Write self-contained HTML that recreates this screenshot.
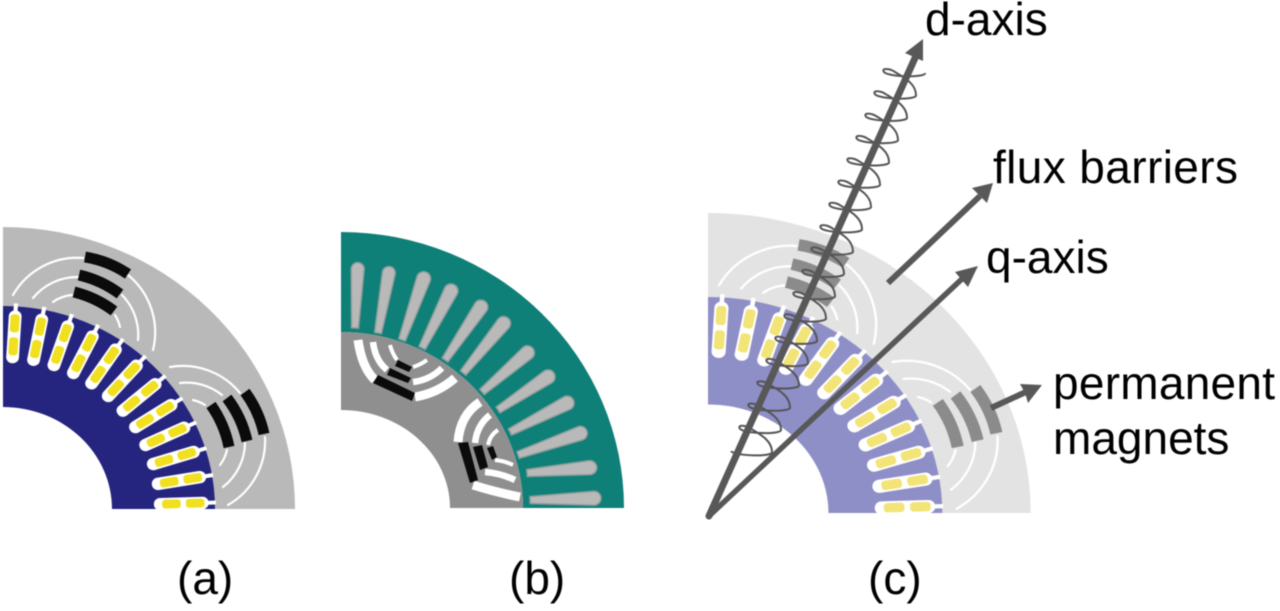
<!DOCTYPE html>
<html><head><meta charset="utf-8"><style>
html,body{margin:0;padding:0;background:#fff;width:1280px;height:611px;overflow:hidden}
svg{display:block;filter:blur(.6px)}
:root{--g:#b9b9b9;--b:#25257f;--y:#f0e020;--m:#0b0b0b}
text{font-family:"Liberation Sans",sans-serif;font-size:46px;fill:#000}
</style></head><body>
<svg width="1280" height="611" viewBox="0 0 1280 611" xmlns="http://www.w3.org/2000/svg">
<defs>
<clipPath id="cq"><rect x="3" y="200" width="300" height="309"/></clipPath>
<g id="sl">
<rect x="-2" y="-206" width="4" height="14" fill="#fff"/>
<rect x="-6.2" y="-199" width="12.4" height="53" rx="6" fill="#fff"/>
<rect x="-4.4" y="-195" width="8.8" height="18" rx="3" style="fill:var(--y)"/>
<rect x="-4.4" y="-172" width="8.8" height="18" rx="3" style="fill:var(--y)"/>
</g>
<g id="motor">
<path d="M3 509V227A292 282 0 0 1 295 509H112A109 102 0 0 0 3 407Z" style="fill:var(--g)"/>
<path d="M3 407V306A212 203 0 0 1 215 509H112A109 102 0 0 0 3 407Z" style="fill:var(--b)"/>
<g clip-path="url(#cq)"><g transform="translate(3 509) scale(1.034 1)">
<use href="#sl" transform="rotate(3.5)"/><use href="#sl" transform="rotate(11.2)"/><use href="#sl" transform="rotate(18.9)"/><use href="#sl" transform="rotate(26.6)"/><use href="#sl" transform="rotate(34.3)"/><use href="#sl" transform="rotate(42)"/><use href="#sl" transform="rotate(49.7)"/><use href="#sl" transform="rotate(57.4)"/><use href="#sl" transform="rotate(65.1)"/><use href="#sl" transform="rotate(72.8)"/><use href="#sl" transform="rotate(80.5)"/><use href="#sl" transform="rotate(88.2)"/>
</g></g>
<g fill="none" stroke="#fff" stroke-width="2.2" stroke-linecap="round">
<path d="M13 295A74 74 0 0 1 83 258M128 275A74 74 0 0 1 153 350"/>
<path d="M33 298A57 57 0 0 1 78 277M122 295A57 57 0 0 1 138 340"/>
<path d="M53 302A38 38 0 0 1 72 295M115 315A38 38 0 0 1 120 327"/>
<path d="M170 367A74 74 0 0 1 240 393M265 437A74 74 0 0 1 228 505"/>
<path d="M180 383A57 57 0 0 1 222 395M245 443A57 57 0 0 1 223 487"/>
<path d="M193 400A40 40 0 0 1 205 405M227 450A40 40 0 0 1 220 465"/>
</g>
<g fill="none" stroke-width="11" stroke-linecap="butt" style="stroke:var(--m)">
<path d="M85 257A110 110 0 0 1 128 274"/>
<path d="M79 275A110 110 0 0 1 120 294"/>
<path d="M74 292A110 110 0 0 1 114 311"/>
<path d="M245 392A110 110 0 0 1 264 434"/>
<path d="M227 398A110 110 0 0 1 247 441"/>
<path d="M211 405A110 110 0 0 1 229 447"/>
</g>
</g>
</defs>

<!-- panel a -->
<use href="#motor"/>

<!-- panel b -->
<path d="M341 332V232A283 276 0 0 1 624 508H523A182 176 0 0 0 341 332Z" fill="#0e8078"/>
<g fill="#b9b9b9" stroke="#8d9c9a" stroke-width="1.5">
<path transform="translate(355 328) rotate(-87.4)" d="M0-3.5L59-6.5A6.5 6.5 0 0 1 59 6.5L0 3.5Z"/>
<path transform="translate(378 333) rotate(-79.8)" d="M0-3.5L61-6.5A6.5 6.5 0 0 1 61 6.5L0 3.5Z"/>
<path transform="translate(402 340) rotate(-70.6)" d="M0-3.5L65-7A7 7 0 0 1 65 7L0 3.5Z"/>
<path transform="translate(422 348) rotate(-63.1)" d="M0-3.5L64-7A7 7 0 0 1 64 7L0 3.5Z"/>
<path transform="translate(445 360) rotate(-55.9)" d="M0-3.5L64-7A7 7 0 0 1 64 7L0 3.5Z"/>
<path transform="translate(463 373) rotate(-50.7)" d="M0-3.5L64-7A7 7 0 0 1 64 7L0 3.5Z"/>
<path transform="translate(482 392) rotate(-40.8)" d="M0-3.5L60-7A7 7 0 0 1 60 7L0 3.5Z"/>
<path transform="translate(498 410) rotate(-33.5)" d="M0-3.5L60-7A7 7 0 0 1 60 7L0 3.5Z"/>
<path transform="translate(510 432) rotate(-26.9)" d="M0-3.5L64-7A7 7 0 0 1 64 7L0 3.5Z"/>
<path transform="translate(518 455) rotate(-19.2)" d="M0-3.5L66-7A7 7 0 0 1 66 7L0 3.5Z"/>
<path transform="translate(527 473) rotate(-4.9)" d="M0-3.5L63-7A7 7 0 0 1 63 7L0 3.5Z"/>
<path transform="translate(530 500) rotate(-1.6)" d="M0-3.5L64-7A7 7 0 0 1 64 7L0 3.5Z"/>
</g>
<path d="M341 410V332A182 176 0 0 1 523 508H450A109 98 0 0 0 341 410Z" fill="#8f8f8f"/>
<g fill="none" stroke="#fff" stroke-linecap="butt">
<g stroke-width="9">
<path d="M358 340Q362 368 375 380"/><path d="M415 397Q438 393 455 378"/>
<path d="M480 402Q460 415 458 442"/><path d="M473 485Q495 492 520 497"/>
</g>
<g stroke-width="6.5">
<path d="M373 342Q375 360 387 370"/><path d="M413 382Q430 380 442 368"/>
<path d="M490 415Q477 425 475 443"/><path d="M485 472Q500 473 515 480"/>
</g>
<g stroke-width="4">
<path d="M390 345Q392 353 397 360"/><path d="M413 367Q420 365 427 360"/>
<path d="M498 430Q490 435 488 445"/><path d="M495 460Q505 461 513 465"/>
</g>
</g>
<g fill="#0b0b0b">
<path d="M378 375L415 393L412 401L373 383Z"/><path d="M390 368L411 378L408 383L387 375Z"/><path d="M398 360L412 367L409 372L395 366Z"/>
<path d="M458 443L468 442L478 480L470 483Z"/><path d="M473 447L482 445L488 467L480 470Z"/><path d="M487 448L493 446L497 457L492 460Z"/>
</g>

<!-- panel c -->
<use href="#motor" transform="translate(708 513) scale(1.105 1.064) translate(-3 -509)" style="--g:#e2e3e2;--b:#8f8fc8;--y:#f2e477;--m:#8b8b8b"/>

<!-- coil -->
<path fill="none" stroke="#555" stroke-width="2" stroke-linejoin="round" d="M925 73
c1 5-37 4-41-1c-3-4 5-4 11 0c10 6 21 12 21 23.3
c1 5-37 4-41-1c-3-4 5-4 11 0c10 6 21 12 21 23.3
c1 5-37 4-41-1c-3-4 5-4 11 0c10 6 21 12 21 23.3
c1 5-37 4-41-1c-3-4 5-4 11 0c10 6 21 12 21 23.3
c1 5-37 4-41-1c-3-4 5-4 11 0c10 6 21 12 21 23.3
c1 5-37 4-41-1c-3-4 5-4 11 0c10 6 21 12 21 23.3
c1 5-37 4-41-1c-3-4 5-4 11 0c10 6 21 12 21 23.3
c1 5-37 4-41-1c-3-4 5-4 11 0c10 6 21 12 21 23.3
c1 5-37 4-41-1c-3-4 5-4 11 0c10 6 21 12 21 23.3
c1 5-37 4-41-1c-3-4 5-4 11 0c10 6 21 12 21 23.3
c1 5-37 4-41-1c-3-4 5-4 11 0c10 6 21 12 21 23.3
c1 5-37 4-41-1c-3-4 5-4 11 0c10 6 21 12 21 23.3
c1 5-37 4-41-1c-3-4 5-4 11 0c10 6 21 12 21 23.3
c1 5-37 4-41-1c-3-4 5-4 11 0c10 6 21 12 21 23.3
c1 5-37 4-41-1c-3-4 5-4 11 0c10 6 21 12 21 23.3
c1 5-37 4-41-1c-3-4 5-4 11 0c10 6 21 12 21 23.3
c1 5-37 4-41-1c-3-4 5-4 11 0c10 6 21 12 21 23.3
c1 5-37 4-41-1"/>

<!-- axes and arrows -->
<g stroke="#585858" fill="none" stroke-linecap="round">
<path d="M709 516L915 58" stroke-width="7"/>
<path d="M709 516L964 277" stroke-width="5.5"/>
</g>
<g stroke="#585858" fill="none">
<path d="M888 283L980 196" stroke-width="6"/>
<path d="M991 408L1028 391" stroke-width="6"/>
</g>
<g fill="#585858">
<path d="M923 39L923 61L914 57L905 53Z"/>
<path d="M978 266L968 287L961 279L955 272Z"/>
<path d="M993 183L987 203L979 195L972 188Z"/>
<path d="M1042 385L1028 403L1025 393L1020 384Z"/>
</g>

<!-- labels -->
<text x="925" y="35">d-axis</text>
<text x="993" y="183" textLength="245">flux barriers</text>
<text x="986" y="273">q-axis</text>
<text x="1053" y="399" textLength="222">permanent</text>
<text x="1053" y="454">magnets</text>
<text x="177" y="594">(a)</text>
<text x="509" y="594">(b)</text>
<text x="868" y="594">(c)</text>
</svg>
</body></html>
